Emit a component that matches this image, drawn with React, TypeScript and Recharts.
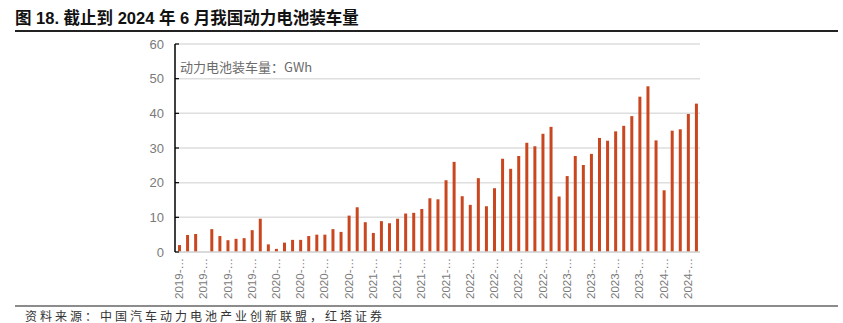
import { BarChart, Bar, XAxis, YAxis, CartesianGrid } from "recharts";

const months = [
  "2019-02", "2019-03", "2019-04", "2019-05", "2019-06", "2019-07", "2019-08", "2019-09", "2019-10", "2019-11", "2019-12",
  "2020-01", "2020-02", "2020-03", "2020-04", "2020-05", "2020-06", "2020-07", "2020-08", "2020-09", "2020-10", "2020-11", "2020-12",
  "2021-01", "2021-02", "2021-03", "2021-04", "2021-05", "2021-06", "2021-07", "2021-08", "2021-09", "2021-10", "2021-11", "2021-12",
  "2022-01", "2022-02", "2022-03", "2022-04", "2022-05", "2022-06", "2022-07", "2022-08", "2022-09", "2022-10", "2022-11", "2022-12",
  "2023-01", "2023-02", "2023-03", "2023-04", "2023-05", "2023-06", "2023-07", "2023-08", "2023-09", "2023-10", "2023-11", "2023-12",
  "2024-01", "2024-02", "2024-03", "2024-04", "2024-05", "2024-06",
];

// 动力电池装车量 (GWh)
const installed = [
  2.0, 4.9, 5.2, 0, 6.6, 4.6, 3.4, 3.8, 4.0, 6.3, 9.6,
  2.2, 0.9, 2.7, 3.5, 3.5, 4.6, 5.0, 5.0, 6.6, 5.8, 10.5, 12.9,
  8.6, 5.5, 8.9, 8.3, 9.6, 11.1, 11.3, 12.4, 15.5, 15.2, 20.7, 26.0,
  16.1, 13.6, 21.3, 13.2, 18.4, 26.9, 24.0, 27.7, 31.5, 30.5, 34.1, 36.1,
  16.0, 21.9, 27.7, 25.1, 28.3, 32.9, 32.1, 34.8, 36.4, 39.2, 44.8, 47.8,
  32.2, 17.8, 35.0, 35.4, 39.8, 42.8,
];

const yTicks = [0, 10, 20, 30, 40, 50, 60];

const data = months.map((m, i) => ({ month: m, value: installed[i] }));

const latin = '"Liberation Sans", Arial, "Noto Sans CJK SC", sans-serif';
const cjk = '"Noto Sans CJK SC", "Liberation Sans", sans-serif';

const YTick = ({ x, y, payload }: any) => (
  <g>
    <line x1={x + 11} x2={x + 15} y1={y} y2={y} stroke="#000" strokeWidth={1.2} />
    <text x={x} y={y} dy={4.5} textAnchor="end" fill="#7a7a7a" fontSize={13} fontFamily={latin}>
      {payload.value}
    </text>
  </g>
);

const XTick = ({ x, y, payload }: any) => (
  <text
    x={x}
    y={y}
    dy={4}
    textAnchor="end"
    transform={`rotate(-90, ${x}, ${y})`}
    fill="#7a7a7a"
    fontSize={11.5}
    fontFamily={latin}
  >
    {payload.value.slice(0, 5) + "…"}
  </text>
);

export default function App() {
  return (
    <div
      style={{
        position: "absolute",
        left: 0,
        top: 0,
        width: 843,
        height: 323,
        background: "#fff",
        overflow: "hidden",
      }}
    >
      <div
        style={{
          position: "absolute",
          left: 15,
          top: 5,
          fontSize: 16.5,
          fontWeight: "bold",
          fontFamily: latin,
          color: "#111",
          whiteSpace: "nowrap",
        }}
      >
        图 18. 截止到 2024 年 6 月我国动力电池装车量
      </div>
      <div style={{ position: "absolute", left: 15, top: 30, width: 823, height: 2, background: "#222" }} />

      <BarChart width={843} height={323} data={data} margin={{ top: 44, right: 143, bottom: 31, left: 0 }}>
        <CartesianGrid horizontal vertical={false} stroke="#dedede" strokeWidth={1.5} />
        <XAxis
          dataKey="month"
          interval={2}
          height={40}
          tickLine={false}
          tickMargin={0}
          axisLine={{ stroke: "#d6d6d6", strokeWidth: 1.5 }}
          tick={<XTick />}
        />
        <YAxis
          width={175}
          domain={[0, 60]}
          ticks={yTicks}
          tickLine={false}
          tickMargin={5}
          axisLine={{ stroke: "#000", strokeWidth: 1.5 }}
          tick={<YTick />}
        />
        <Bar dataKey="value" fill="#c9461f" barSize={3} isAnimationActive={false} />
      </BarChart>

      <div
        style={{
          position: "absolute",
          left: 180,
          top: 57,
          fontSize: 13,
          fontFamily: cjk,
          color: "#6b6b6b",
          whiteSpace: "nowrap",
        }}
      >
        动力电池装车量：GWh
      </div>

      <div style={{ position: "absolute", left: 15, top: 305, width: 823, height: 2, background: "#8c8c8c" }} />
      <div
        style={{
          position: "absolute",
          left: 25,
          top: 309,
          fontSize: 12,
          lineHeight: "13px",
          letterSpacing: 3,
          fontFamily: cjk,
          color: "#333",
          whiteSpace: "nowrap",
        }}
      >
        资料来源：中国汽车动力电池产业创新联盟，红塔证券
      </div>
    </div>
  );
}
